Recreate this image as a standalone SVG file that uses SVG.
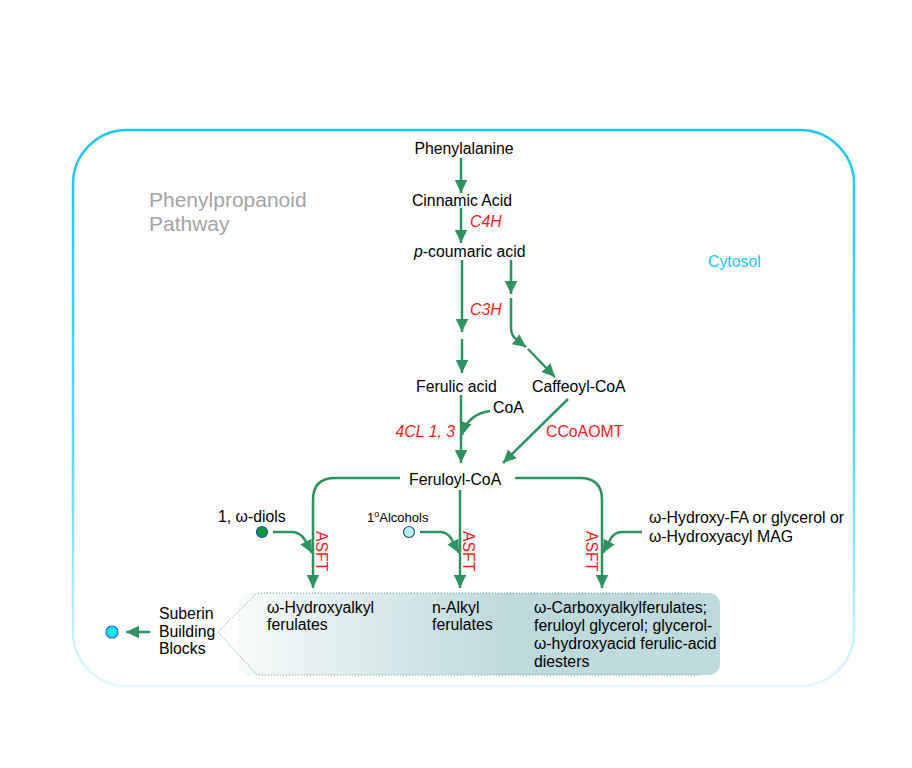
<svg xmlns="http://www.w3.org/2000/svg" width="912" height="768" viewBox="0 0 912 768">
<style>
text{font-family:"Liberation Sans",Arial,sans-serif;font-size:15.8px;fill:#000}
.enz{fill:#ff1a1a;font-style:italic}
.enzn{fill:#ff1a1a}
.c{stroke:#2e9260;stroke-width:2.5;fill:none}
.ca{stroke:#2e9260;stroke-width:2.5;fill:none;marker-end:url(#ah)}
</style>
<defs>
<marker id="ah" markerUnits="userSpaceOnUse" markerWidth="16" markerHeight="16" viewBox="0 0 16 16" refX="13" refY="8" orient="auto">
<path d="M0,1.8 L13,8 L0,14.2 Z" fill="#2e9260"/>
</marker>
<linearGradient id="outer" x1="0" y1="0" x2="0" y2="1">
<stop offset="0" stop-color="#1ac8f0"/>
<stop offset="0.6" stop-color="#5fd9f6"/>
<stop offset="1" stop-color="#e2f8fd"/>
</linearGradient>
<linearGradient id="boxg" gradientUnits="userSpaceOnUse" x1="238" y1="0" x2="510" y2="0">
<stop offset="0" stop-color="#f6fafa"/>
<stop offset="1" stop-color="#bddadc"/>
</linearGradient>
</defs>

<g id="cytosol">
<rect x="73" y="130" width="781" height="556" rx="54" ry="54" fill="none" stroke="url(#outer)" stroke-width="2.5"/>
<text x="708" y="267" style="fill:#22c6ee">Cytosol</text>
</g>

<g id="pathway-label">
<text x="149" y="207" style="fill:#a3a3a3;font-size:21px">Phenylpropanoid</text>
<text x="149" y="231" style="fill:#a3a3a3;font-size:21px">Pathway</text>
</g>

<g id="products-box">
<rect x="238" y="593" width="482" height="82" rx="11" ry="11" fill="url(#boxg)"/>
<path d="M700,593 H257 L218,632 L257,675 H700" fill="none" stroke="#6aa898" stroke-width="1" stroke-dasharray="1.2,1.8"/>
</g>

<g id="phenylalanine"><text x="464" y="154" text-anchor="middle">Phenylalanine</text></g>
<g id="cinnamic"><text x="462" y="206" text-anchor="middle">Cinnamic Acid</text></g>
<g id="coumaric"><text x="414" y="257"><tspan font-style="italic">p</tspan>-coumaric acid</text></g>
<g id="ferulic"><text x="416" y="392">Ferulic acid</text></g>
<g id="caffeoyl"><text x="532" y="392">Caffeoyl-CoA</text></g>
<g id="coa"><text x="493" y="413">CoA</text></g>
<g id="feruloyl"><text x="409" y="485">Feruloyl-CoA</text></g>
<g id="diols">
<text x="218" y="522">1, ω-diols</text>
<circle cx="262" cy="532" r="5.5" fill="#0f9a3a" stroke="#2050c0" stroke-width="1.2"/>
</g>
<g id="alcohols">
<text x="367" y="522" style="font-size:13px">1<tspan dy="-5" style="font-size:9px">o</tspan><tspan dy="5">Alcohols</tspan></text>
<circle cx="409" cy="532" r="5.5" fill="#b4f4f6" stroke="#2a4a5a" stroke-width="1.2"/>
</g>
<g id="hydroxyfa">
<text x="649" y="523">ω-Hydroxy-FA or glycerol or</text>
<text x="649" y="542">ω-Hydroxyacyl MAG</text>
</g>
<g id="hydroxyalkyl">
<text x="267" y="613">ω-Hydroxyalkyl</text>
<text x="267" y="630">ferulates</text>
</g>
<g id="nalkyl">
<text x="432" y="613">n-Alkyl</text>
<text x="432" y="630">ferulates</text>
</g>
<g id="carboxyalkyl">
<text x="534" y="613">ω-Carboxyalkylferulates;</text>
<text x="534" y="631">feruloyl glycerol; glycerol-</text>
<text x="534" y="649">ω-hydroxyacid ferulic-acid</text>
<text x="534" y="667">diesters</text>
</g>
<g id="suberin">
<text x="159" y="619">Suberin</text>
<text x="159" y="637">Building</text>
<text x="159" y="654">Blocks</text>
<circle cx="112" cy="632" r="6" fill="#1ee0f4" stroke="#2060d0" stroke-width="1.2"/>
</g>

<g id="enzymes">
<text class="enz" x="470" y="227">C4H</text>
<text class="enz" x="470" y="315">C3H</text>
<text class="enz" x="455" y="437" text-anchor="end">4CL 1, 3</text>
<text class="enzn" x="546" y="437">CCoAOMT</text>
<text class="enzn" transform="translate(316,531) rotate(90)">ASFT</text>
<text class="enzn" transform="translate(463,531) rotate(90)">ASFT</text>
<text class="enzn" transform="translate(586,531) rotate(90)">ASFT</text>
</g>

<g id="connectors">
<path class="ca" d="M461,158 V193"/>
<path class="ca" d="M461,208 V243"/>
<path class="ca" d="M462,260 V332"/>
<path class="ca" d="M462,339 V373"/>
<path class="ca" d="M511,260 V294"/>
<path class="ca" d="M511,298 V328 Q511,336 518,341 L526,347"/>
<path class="ca" d="M528,349 L555,377"/>
<path class="ca" d="M461,395 V463"/>
<path class="ca" d="M490,411 Q468,414 462,435"/>
<path class="ca" d="M568,399 L503,463"/>
<path class="ca" d="M400,478 H335 Q313,478 313,500 V588"/>
<path class="ca" d="M460,490 V588"/>
<path class="ca" d="M515,478 H580 Q602,478 602,500 V588"/>
<path class="ca" d="M273,532 H292 Q300,532 305,540 L312,553"/>
<path class="ca" d="M420,532 H440 Q448,532 452,540 L459,553"/>
<path class="ca" d="M642,532 H622 Q614,532 610,540 L603,553"/>
<path class="ca" d="M150,632 H126"/>
</g>
</svg>
